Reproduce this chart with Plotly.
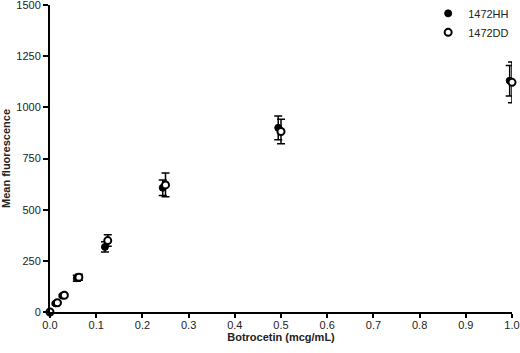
import plotly.graph_objects as go

# Data
hh_x = [0.0, 0.012, 0.027, 0.058, 0.119, 0.244, 0.494, 0.995]
hh_y = [0, 42, 80, 165, 318, 607, 900, 1130]
hh_err = [0, 5, 6, 15, 25, 38, 58, 75]

dd_x = [0.0, 0.016, 0.031, 0.0625, 0.125, 0.25, 0.5, 1.0]
dd_y = [0, 45, 82, 170, 349, 621, 882, 1122]
dd_err = [0, 5, 6, 15, 28, 58, 60, 100]

x_ticks = [0.0, 0.1, 0.2, 0.3, 0.4, 0.5, 0.6, 0.7, 0.8, 0.9, 1.0]
y_ticks = [0, 250, 500, 750, 1000, 1250, 1500]

FONT = "Liberation Sans, Arial, sans-serif"

fig = go.Figure()
fig.add_trace(go.Scatter(
    x=hh_x, y=hh_y, mode="markers", name="1472HH",
    marker=dict(symbol="circle", size=7, color="black", line=dict(color="black", width=1)),
    error_y=dict(type="data", array=hh_err, visible=True, color="black", thickness=1.5, width=4),
    cliponaxis=False,
))
fig.add_trace(go.Scatter(
    x=dd_x, y=dd_y, mode="markers", name="1472DD",
    marker=dict(symbol="circle", size=7, color="white", line=dict(color="black", width=2)),
    error_y=dict(type="data", array=dd_err, visible=True, color="black", thickness=1.5, width=4),
    cliponaxis=False,
))

fig.update_layout(
    width=520, height=353,
    margin=dict(l=50, r=8, t=5, b=41, autoexpand=False),
    paper_bgcolor="white", plot_bgcolor="white",
    font=dict(family=FONT, size=11, color="#222"),
    showlegend=True,
    legend=dict(x=0.8185, y=1.02, xanchor="left", yanchor="top",
                bgcolor="rgba(0,0,0,0)", font=dict(size=11, color="#222"),
                tracegroupgap=0),
    xaxis=dict(
        range=[0, 1], tickvals=x_ticks, tickformat=".1f",
        showline=True, linecolor="black", linewidth=2,
        ticks="outside", ticklen=4, tickwidth=2, tickcolor="black",
        showgrid=False, zeroline=False, automargin=False,
        ticklabeloverflow="allow", ticklabelstandoff=-2,
        title=dict(text="<b>Botrocetin (mcg/mL)</b>", font=dict(size=11, color="#222"), standoff=0),
    ),
    yaxis=dict(
        range=[0, 1500], tickvals=y_ticks,
        showline=True, linecolor="black", linewidth=2,
        ticks="outside", ticklen=5, tickwidth=2, tickcolor="black",
        showgrid=False, zeroline=False, automargin=False,
        ticklabeloverflow="allow",
        title=dict(text="<b>Mean fluorescence</b>", font=dict(size=11, color="#222"), standoff=4),
    ),
)

fig.write_html("out.html", config={"displayModeBar": False},
               post_script="document.body.style.margin='0';")
